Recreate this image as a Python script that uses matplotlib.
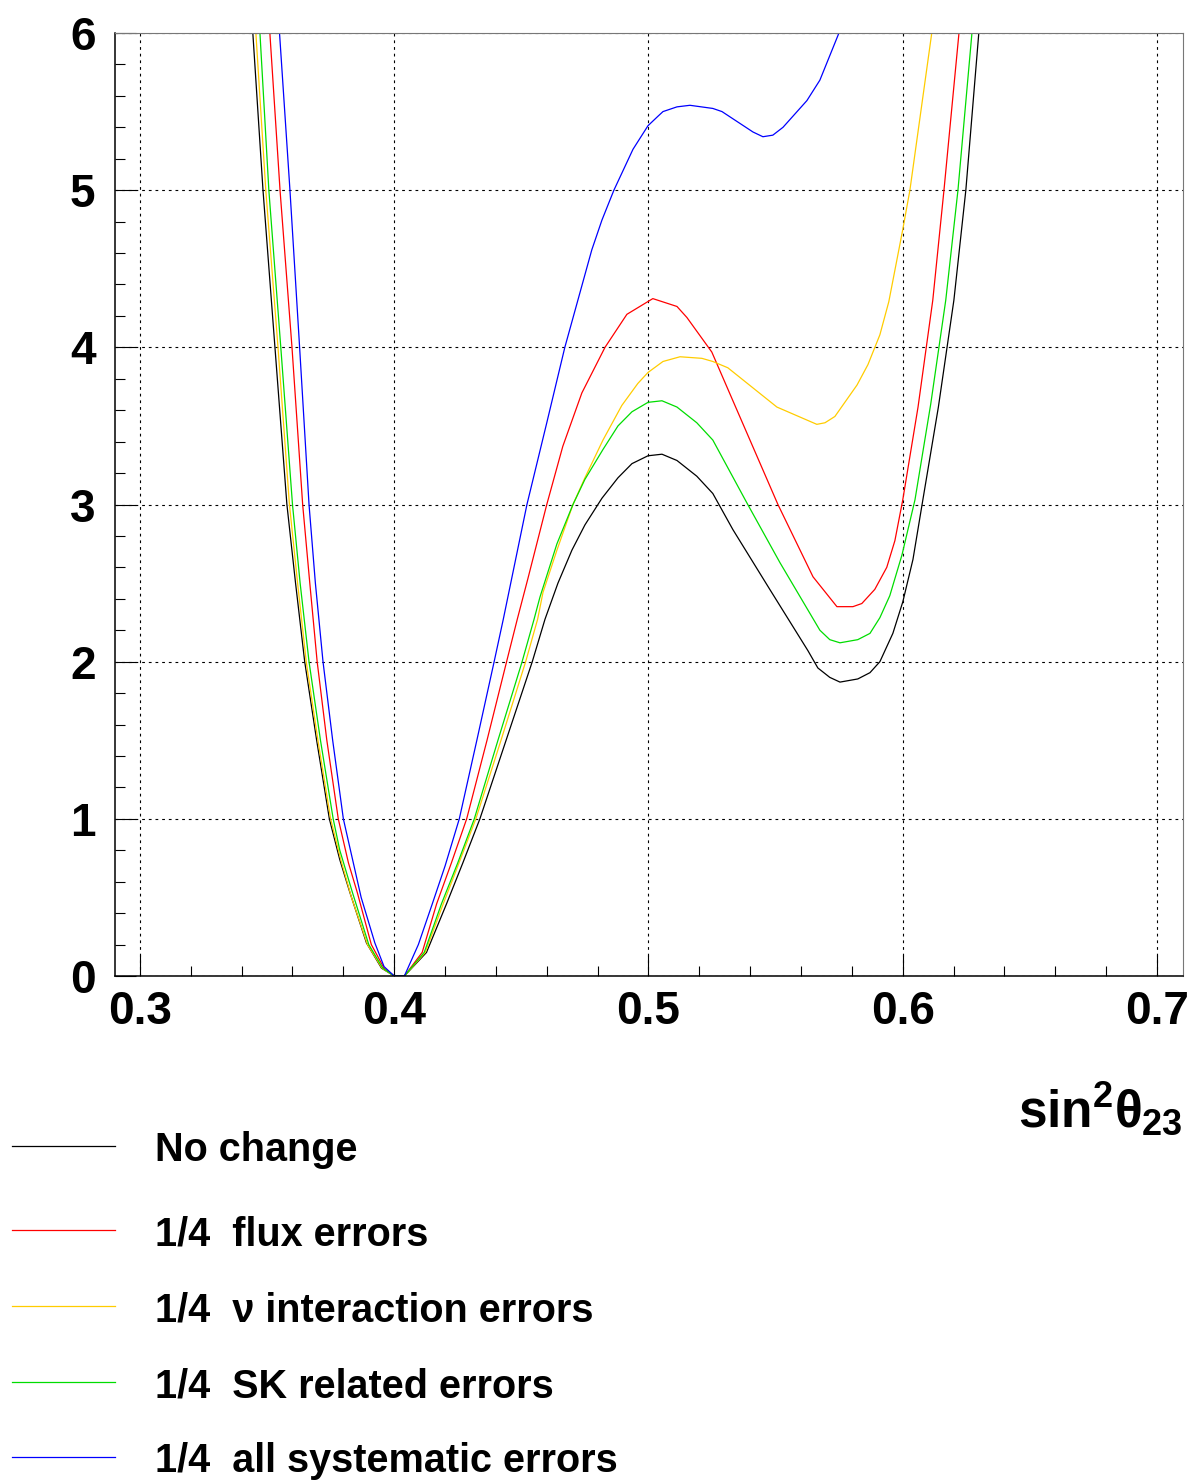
import matplotlib
matplotlib.use("Agg")
import matplotlib.pyplot as plt
from matplotlib.lines import Line2D
from matplotlib.ticker import MultipleLocator

# chi2 vs sin^2(theta23)
x_nochange = [0.3444, 0.3484, 0.3531, 0.3578, 0.3612, 0.3648, 0.3695, 0.3745, 0.3786, 0.3826,
              0.3891, 0.3950, 0.4000, 0.4040, 0.4127, 0.4206, 0.4270, 0.4337, 0.4440, 0.4543,
              0.4593, 0.4644, 0.4699, 0.4750, 0.4817, 0.4880, 0.4935, 0.4998, 0.5053, 0.5112,
              0.5190, 0.5253, 0.5332, 0.5477, 0.5627, 0.5666, 0.5713, 0.5753, 0.5823, 0.5871,
              0.5910, 0.5961, 0.6000, 0.6040, 0.6079, 0.6140, 0.6201, 0.6248, 0.6299]
y_nochange = [6.0, 5.0, 4.0, 3.0, 2.5, 2.0, 1.5, 1.0, 0.74, 0.53,
              0.21, 0.05, 0.0, 0.0, 0.15, 0.46, 0.72, 1.0, 1.5, 2.0,
              2.27, 2.50, 2.71, 2.87, 3.04, 3.17, 3.26, 3.31, 3.32, 3.28,
              3.18, 3.07, 2.84, 2.46, 2.07, 1.96, 1.90, 1.87, 1.89, 1.93,
              2.00, 2.18, 2.38, 2.65, 3.03, 3.62, 4.30, 5.0, 6.0]

x_flux = [0.3511, 0.3551, 0.3598, 0.3640, 0.3668, 0.3697, 0.3735, 0.3780, 0.3820, 0.3855,
          0.3910, 0.3960, 0.4000, 0.4040, 0.4110, 0.4167, 0.4225, 0.4285, 0.4365, 0.4442,
          0.4484, 0.4526, 0.4600, 0.4663, 0.4738, 0.4829, 0.4915, 0.5017, 0.5112, 0.5151,
          0.5249, 0.5332, 0.5509, 0.5647, 0.5741, 0.5804, 0.5839, 0.5890, 0.5937, 0.5969,
          0.6000, 0.6060, 0.6118, 0.6162, 0.6221]
y_flux = [6.0, 5.0, 4.0, 3.0, 2.5, 2.0, 1.5, 1.0, 0.72, 0.53,
          0.20, 0.05, 0.0, 0.0, 0.15, 0.46, 0.72, 1.0, 1.5, 2.0,
          2.27, 2.53, 3.0, 3.37, 3.71, 4.0, 4.21, 4.31, 4.26, 4.19,
          3.97, 3.66, 3.0, 2.54, 2.35, 2.35, 2.37, 2.46, 2.60, 2.77,
          3.03, 3.62, 4.30, 5.0, 6.0]

x_int = [0.3456, 0.3495, 0.3543, 0.3588, 0.3620, 0.3654, 0.3700, 0.3750, 0.3790, 0.3832,
         0.3895, 0.3952, 0.4000, 0.4040, 0.4122, 0.4193, 0.4255, 0.4321, 0.4420, 0.4517,
         0.4564, 0.4585, 0.4640, 0.4703, 0.4750, 0.4821, 0.4895, 0.4958, 0.4998, 0.5057,
         0.5124, 0.5210, 0.5253, 0.5312, 0.5505, 0.5662, 0.5694, 0.5733, 0.5820, 0.5863,
         0.5910, 0.5945, 0.6000, 0.6028, 0.6114]
y_int = [6.0, 5.0, 4.0, 3.0, 2.5, 2.0, 1.5, 1.0, 0.74, 0.50,
         0.20, 0.05, 0.0, 0.0, 0.15, 0.46, 0.72, 1.0, 1.5, 2.0,
         2.27, 2.44, 2.71, 3.0, 3.17, 3.41, 3.63, 3.77, 3.84, 3.91,
         3.94, 3.93, 3.91, 3.87, 3.62, 3.51, 3.52, 3.56, 3.76, 3.89,
         4.08, 4.29, 4.75, 5.0, 6.0]

x_sk = [0.3472, 0.3507, 0.3554, 0.3600, 0.3630, 0.3665, 0.3710, 0.3760, 0.3786, 0.3836,
        0.3900, 0.3955, 0.4000, 0.4040, 0.4118, 0.4186, 0.4250, 0.4315, 0.4408, 0.4503,
        0.4550, 0.4573, 0.4640, 0.4703, 0.4750, 0.4821, 0.4880, 0.4935, 0.4998, 0.5053,
        0.5112, 0.5190, 0.5253, 0.5387, 0.5517, 0.5674, 0.5713, 0.5753, 0.5823, 0.5871,
        0.5910, 0.5949, 0.5997, 0.6048, 0.6110, 0.6169, 0.6217, 0.6272]
y_sk = [6.0, 5.0, 4.0, 3.0, 2.5, 2.0, 1.5, 1.0, 0.80, 0.53,
        0.20, 0.05, 0.0, 0.0, 0.15, 0.46, 0.72, 1.0, 1.5, 2.0,
        2.27, 2.41, 2.75, 3.0, 3.16, 3.35, 3.50, 3.59, 3.65, 3.66,
        3.62, 3.52, 3.41, 3.01, 2.63, 2.20, 2.14, 2.12, 2.14, 2.18,
        2.28, 2.42, 2.68, 3.03, 3.64, 4.30, 5.0, 6.0]

x_all = [0.3549, 0.3590, 0.3628, 0.3665, 0.3690, 0.3720, 0.3758, 0.3800, 0.3870, 0.3924,
         0.3960, 0.4000, 0.4040, 0.4095, 0.4150, 0.4200, 0.4256, 0.4325, 0.4393, 0.4429,
         0.4522, 0.4600, 0.4671, 0.4777, 0.4817, 0.4864, 0.4939, 0.4998, 0.5037, 0.5057,
         0.5112, 0.5163, 0.5253, 0.5289, 0.5411, 0.5450, 0.5489, 0.5529, 0.5623, 0.5674,
         0.5749]
y_all = [6.0, 5.0, 4.0, 3.0, 2.5, 2.0, 1.5, 1.0, 0.50, 0.21,
         0.06, 0.0, 0.0, 0.20, 0.46, 0.70, 1.0, 1.5, 2.0, 2.27,
         3.0, 3.52, 4.0, 4.62, 4.81, 5.0, 5.26, 5.41, 5.47, 5.50,
         5.53, 5.54, 5.52, 5.50, 5.37, 5.34, 5.35, 5.40, 5.57, 5.70,
         6.0]

labels = ["No change", "1/4  flux errors", "1/4  \u03bd interaction errors",
          "1/4  SK related errors", "1/4  all systematic errors"]
colors = ["black", "#ff0000", "#ffcc00", "#00dd00", "#0000ff"]

series = [(x_nochange, y_nochange), (x_flux, y_flux), (x_int, y_int),
          (x_sk, y_sk), (x_all, y_all)]

plt.rcParams['font.family'] = ['Liberation Sans', 'DejaVu Sans']
plt.rcParams['mathtext.fontset'] = 'custom'
plt.rcParams['mathtext.rm'] = 'Liberation Sans:bold'
plt.rcParams['mathtext.it'] = 'Liberation Sans:bold'
plt.rcParams['mathtext.bf'] = 'Liberation Sans:bold'

fig = plt.figure(figsize=(11.96, 14.8), dpi=100)
ax = fig.add_axes([115 / 1196, 1 - 976 / 1480, 1068 / 1196, 943 / 1480])

for (xs, ys), c in zip(series, colors):
    ax.plot(xs, ys, color=c, lw=0.9)

ax.set_xlim(0.2902, 0.7102)
ax.set_ylim(0, 6)

ax.xaxis.set_minor_locator(MultipleLocator(0.02))
ax.yaxis.set_minor_locator(MultipleLocator(0.2))
ax.tick_params(which='both', direction='in', top=False, right=False, width=0.8)
ax.tick_params(which='major', length=15)
ax.tick_params(which='minor', length=7)
ax.tick_params(axis='x', which='major', pad=10, labelsize=33)
ax.tick_params(axis='y', which='major', pad=14, labelsize=33)
ax.set_xticks([0.3, 0.4, 0.5, 0.6, 0.7])
ax.set_xticklabels(["0.3", "0.4", "0.5", "0.6", "0.7"], fontweight='bold')
ax.set_yticks([0, 1, 2, 3, 4, 5, 6])
ax.set_yticklabels(["0", "1", "2", "3", "4", "5", "6"], fontweight='bold')

ax.grid(True, which='major', color='black', lw=0.8, linestyle=(0, (2.5, 3.5)))
for s in ['left', 'bottom']:
    ax.spines[s].set_linewidth(1.1)
for s in ['top', 'right']:
    ax.spines[s].set_color('#777777')
    ax.spines[s].set_linewidth(0.8)

fig.text(1183 / 1196, 1 - 1128 / 1480, r'$\mathrm{sin}^{2}\theta_{23}$',
         ha='right', va='baseline', fontsize=37)

# legend below the frame
rows = [1146, 1230, 1306, 1382, 1457]
for lab, c, py in zip(labels, colors, rows):
    yf = 1 - py / 1480
    fig.add_artist(Line2D([12 / 1196, 115 / 1196], [yf, yf], color=c, lw=0.9))
    fig.text(155 / 1196, 1 - (py + 15) / 1480, lab, ha='left', va='baseline',
             fontsize=28.5, fontweight='bold')

fig.savefig("out.png", dpi=100)
